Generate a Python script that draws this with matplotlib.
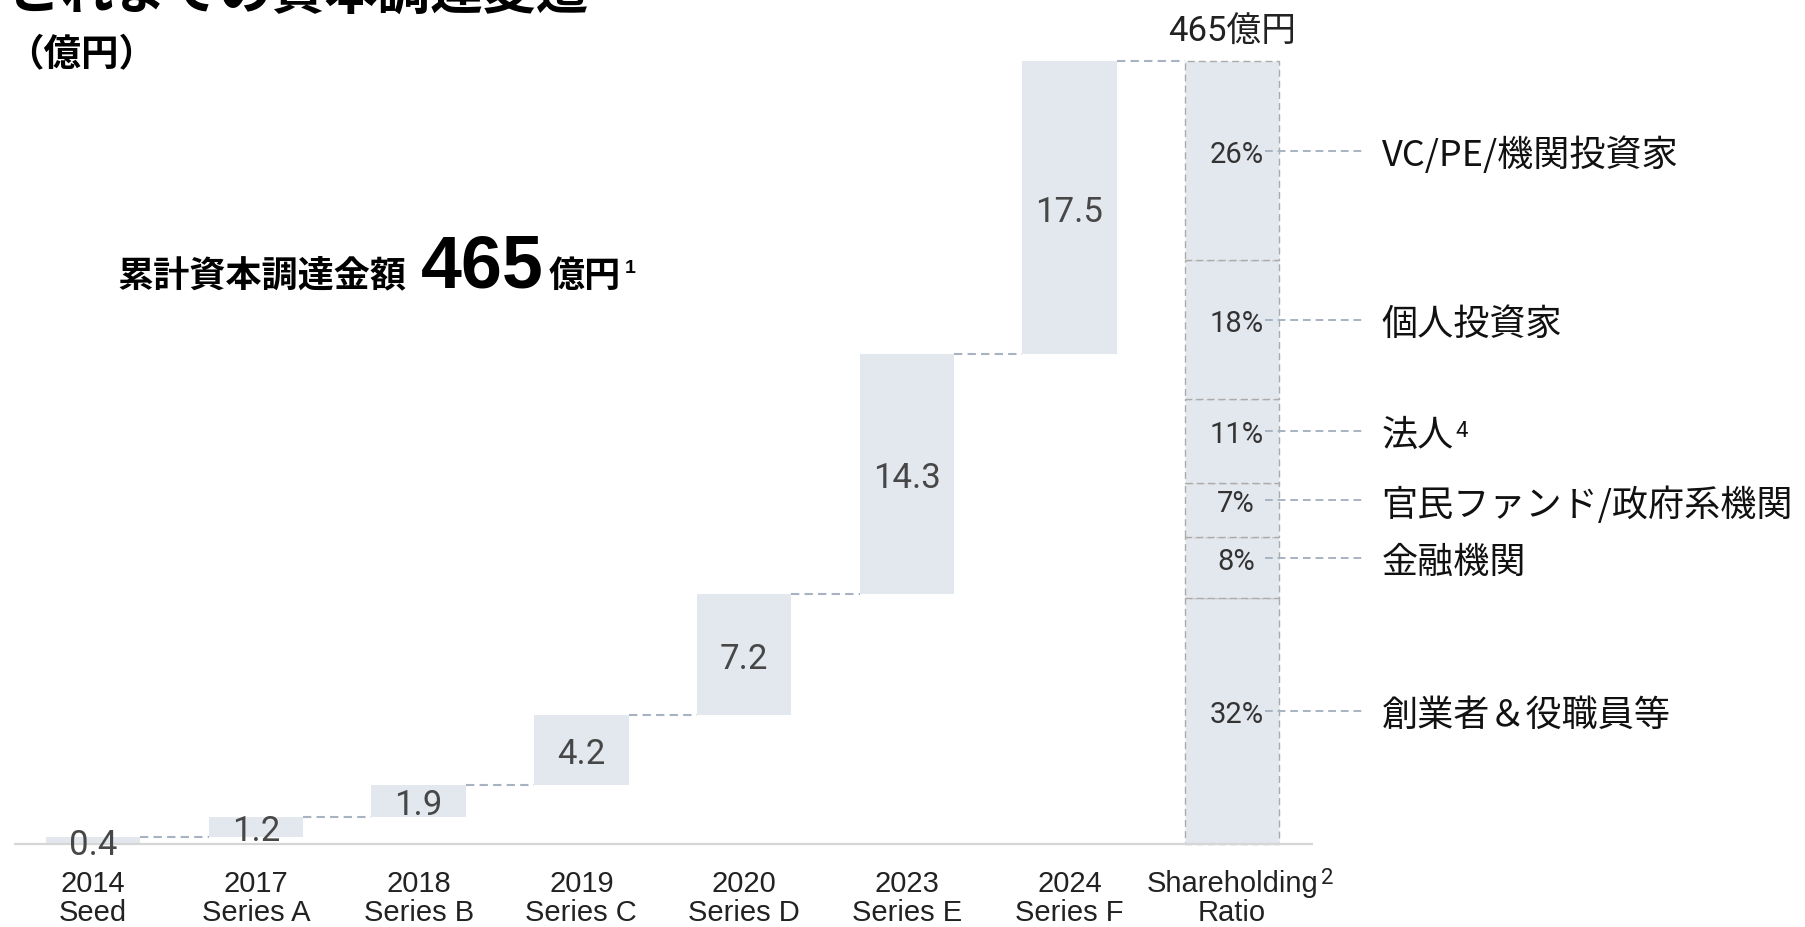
import matplotlib
matplotlib.use('Agg')
import matplotlib.pyplot as plt
import matplotlib.transforms as mtransforms
import numpy as np

# fonts
JP = ['Noto Sans CJK JP', 'DejaVu Sans']
NUM = ['Roboto', 'Liberation Sans', 'Noto Sans CJK JP']
NARROW = ['Liberation Sans Narrow', 'Liberation Sans', 'DejaVu Sans']

# data
years = ['2014', '2017', '2018', '2019', '2020', '2023', '2024']
rounds = ['Seed', 'Series A', 'Series B', 'Series C', 'Series D', 'Series E', 'Series F']
raised = [0.4, 1.2, 1.9, 4.2, 7.2, 14.3, 17.5]

# shareholders, bottom to top
holder_names = ['創業者＆役職員等', '金融機関', '官民ファンド/政府系機関', '法人', '個人投資家', 'VC/PE/機関投資家']
holder_pct = [32, 8, 7, 11, 18, 26]
holder_notes = ['', '', '', '4', '', '']

total_text = '465億円'
share_label = ('Shareholding', 'Ratio', '2')
title = 'これまでの資本調達変遷'
unit = '（億円）'
headline = ('累計資本調達金額', '465', '億円', '1')

BAR = '#e3e7ee'
LINK = '#a7b3c2'

W, H = 1806, 928
fig = plt.figure(figsize=(W / 100, H / 100), dpi=100)
ax = fig.add_axes([0, 0, 1, 1])
ax.set_xlim(-0.573, 10.527)
ax.set_ylim(-4.95, 50.39)
ax.axis('off')

n = len(raised)
x = np.arange(n)
tops = np.cumsum(raised)
starts = tops - np.array(raised)
w = 0.58

# waterfall bars
ax.bar(x, raised, bottom=starts, width=w, color=BAR, zorder=2)

# shareholding bar, scaled to the cumulative total
total = tops[-1]
share_h = np.array(holder_pct) / sum(holder_pct) * total
share_b = np.cumsum(share_h) - share_h
xs = n
ax.bar([xs] * len(share_h), share_h, bottom=share_b, width=w, color=BAR,
       edgecolor='#ababab', linewidth=1.0, linestyle=(0, (5, 3)), zorder=2)

# connectors
for i in range(n):
    ax.plot([i + w / 2, i + 1 - w / 2], [tops[i], tops[i]], color=LINK, lw=1.5,
            ls=(0, (4, 2.5)), zorder=3)

# baseline
ax.plot([-0.49, xs + 0.5], [0, 0], color='#d6d6d6', lw=1.6, zorder=3,
        solid_capstyle='butt')

# value labels
for i in range(n):
    ax.text(i, starts[i] + raised[i] / 2, f'{raised[i]:.1f}', ha='center',
            va='center_baseline', fontsize=25, color='#474747', family=NUM,
            zorder=4)

# category labels
lab = dict(textcoords='offset pixels', ha='center', va='center_baseline',
           fontsize=21, family=NARROW, color='#222222')
for i in range(n):
    ax.annotate(years[i], (i, 0), xytext=(0, -36), **lab)
    ax.annotate(rounds[i], (i, 0), xytext=(0, -65), **lab)
sh = ax.annotate(share_label[0], (xs, 0), xytext=(0, -36), **lab)
ax.annotate(share_label[1], (xs, 0), xytext=(0, -65), **lab)
ax.annotate(share_label[2], xy=(1, 1), xycoords=sh, xytext=(3, 2),
            textcoords='offset pixels', ha='left', va='top', fontsize=16,
            family=NUM, color='#222222')

# total above shareholding bar
ax.annotate(total_text, (xs, total), xytext=(0, 20), textcoords='offset pixels',
            ha='center', va='baseline', fontsize=25, family=NUM, color='#222222')

# shareholder labels
up = mtransforms.offset_copy(ax.transData, fig=fig, x=0, y=10, units='dots')
mids = share_b + share_h / 2
for p, m, name, note in zip(holder_pct, mids, holder_names, holder_notes):
    ax.text(xs + 0.025, m, f'{p}%', transform=up, ha='center', va='center_baseline',
            fontsize=21, family=NUM, color='#333333', zorder=4)
    ax.plot([xs + 0.2, xs + 0.815], [m, m], transform=up, color=LINK, lw=1.4,
            ls=(0, (4, 2.5)), zorder=3)
    t = ax.text(xs + 0.919, m, name, transform=up, ha='left', va='center_baseline',
                fontsize=26, family=JP, color='#111111')
    if note:
        ax.annotate(note, xy=(1, 1), xycoords=t, xytext=(2, -3),
                    textcoords='offset pixels', ha='left', va='top', fontsize=16,
                    family=NUM, color='#111111')


def px(xp, yp):
    return xp / W, 1 - yp / H


# header texts
fig.text(*px(8, 10), title, fontsize=38, fontweight='bold', family=JP,
         va='baseline', color='black')
fig.text(*px(6, 66), unit, fontsize=27, fontweight='bold', family=JP,
         va='baseline', color='black')
fig.text(*px(117, 287), headline[0], fontsize=26, fontweight='bold', family=JP,
         va='baseline', color='black')
fig.text(*px(421, 288), headline[1], fontsize=53, fontweight='bold',
         family=['Liberation Sans', 'DejaVu Sans'], va='baseline', color='black')
fig.text(*px(549, 287), headline[2], fontsize=26, fontweight='bold', family=JP,
         va='baseline', color='black')
fig.text(*px(625, 273), headline[3], fontsize=14, fontweight='bold',
         family=['Liberation Sans', 'DejaVu Sans'], va='baseline', color='black')

fig.savefig('out.png', dpi=100)
